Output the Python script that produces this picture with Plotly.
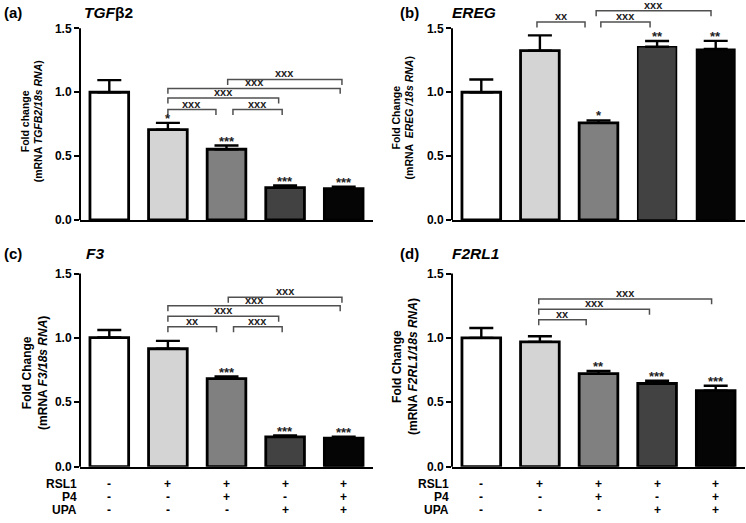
import plotly.graph_objects as go

W, H = 746, 523
FONT = "Liberation Sans, Arial, sans-serif"

groups = [0, 1, 2, 3, 4]
bar_colors = ["#ffffff", "#d4d4d4", "#808080", "#424242", "#050505"]

# ---- data ----
tgfb2_vals = [1.0, 0.707, 0.554, 0.254, 0.246]
tgfb2_err = [0.095, 0.053, 0.029, 0.016, 0.014]
tgfb2_stars = ["", "*", "***", "***", "***"]
tgfb2_br_x0 = [1.0, 2.11, 1.0, 1.0, 2.02]
tgfb2_br_x1 = [1.82, 2.95, 2.89, 3.94, 3.97]
tgfb2_br_y = [0.864, 0.864, 0.954, 1.03, 1.10]
tgfb2_br_lab = ["xxx", "xxx", "xxx", "xxx", "xxx"]

ereg_vals = [1.0, 1.325, 0.76, 1.356, 1.338]
ereg_err = [0.10, 0.12, 0.02, 0.045, 0.064]
ereg_stars = ["", "", "*", "**", "**"]
ereg_br_x0 = [0.95, 2.04, 1.96]
ereg_br_x1 = [1.77, 2.88, 3.92]
ereg_br_y = [1.55, 1.55, 1.638]
ereg_br_lab = ["xx", "xxx", "xxx"]

f3_vals = [1.003, 0.916, 0.684, 0.232, 0.222]
f3_err = [0.058, 0.061, 0.016, 0.010, 0.010]
f3_stars = ["", "", "***", "***", "***"]
f3_br_x0 = [1.0, 2.12, 1.0, 1.0, 2.03]
f3_br_x1 = [1.83, 2.95, 2.89, 3.94, 3.97]
f3_br_y = [1.087, 1.087, 1.168, 1.25, 1.316]
f3_br_lab = ["xx", "xxx", "xxx", "xxx", "xxx"]

f2rl1_vals = [1.0, 0.969, 0.723, 0.646, 0.59]
f2rl1_err = [0.077, 0.044, 0.021, 0.021, 0.038]
f2rl1_stars = ["", "", "**", "***", "***"]
f2rl1_br_x0 = [0.98, 0.98, 0.98]
f2rl1_br_x1 = [1.79, 2.87, 3.93]
f2rl1_br_y = [1.141, 1.223, 1.303]
f2rl1_br_lab = ["xx", "xxx", "xxx"]

tick_vals = [0, 0.5, 1.0, 1.5]
tick_text = ["0.0", "0.5", "1.0", "1.5"]

row_names = ["RSL1", "P4", "UPA"]
rsl1_signs = ["-", "+", "+", "+", "+"]
p4_signs = ["-", "-", "+", "-", "+"]
upa_signs = ["-", "-", "-", "+", "+"]

panel_letters = ["(a)", "(b)", "(c)", "(d)"]
gene_titles = ["<b><i>TGF</i>β2</b>", "<b><i>EREG</i></b>", "<b><i>F3</i></b>", "<b><i>F2RL1</i></b>"]
ytitles = [
    "<b>Fold change<br>(mRNA <i>TGFB2/18s RNA</i>)</b>",
    "<b>Fold Change<br>(mRNA  <i>EREG /18s RNA</i>)</b>",
    "<b>Fold Change<br>(mRNA <i>F3/18s RNA</i>)</b>",
    "<b>Fold Change<br>(mRNA <i>F2RL1/18s RNA</i>)</b>",
]

YMAX = 1.7


def px(x):
    return x / W


def py(y):
    return 1 - y / H


# panel geometry (pixels): x left, x right, y of 0, px per unit
panels = [
    dict(xl=80, xr=373, y0=223, ppu=129.5),
    dict(xl=452, xr=745, y0=223, ppu=129.5),
    dict(xl=80, xr=373, y0=473, ppu=130.5),
    dict(xl=452, xr=745, y0=473, ppu=130.5),
]
outline_w = [
    [2.8] * 5,
    [2.8, 2.8, 2.8, 1.6, 1.2],
    [2.8] * 5,
    [2.8] * 5,
]

datasets = [
    (tgfb2_vals, tgfb2_err, tgfb2_stars, tgfb2_br_x0, tgfb2_br_x1, tgfb2_br_y, tgfb2_br_lab),
    (ereg_vals, ereg_err, ereg_stars, ereg_br_x0, ereg_br_x1, ereg_br_y, ereg_br_lab),
    (f3_vals, f3_err, f3_stars, f3_br_x0, f3_br_x1, f3_br_y, f3_br_lab),
    (f2rl1_vals, f2rl1_err, f2rl1_stars, f2rl1_br_x0, f2rl1_br_x1, f2rl1_br_y, f2rl1_br_lab),
]

fig = go.Figure()
annotations = []
shapes = []
layout_axes = {}

ytitle_pos = [(32, 123, 10.5), (403, 120, 10.5), (35, 378, 12), (405, 372, 12)]
letter_pos = [(2, 13), (398, 13), (2, 257), (398, 257)]
gene_pos = [(82, 13), (450, 13), (84, 257), (450, 257)]

for i, (pan, ds) in enumerate(zip(panels, datasets)):
    vals, err, stars, bx0, bx1, by, blab = ds
    k = "" if i == 0 else str(i + 1)
    xa, ya = "x" + k, "y" + k
    ytop_px = pan["y0"] - YMAX * pan["ppu"]
    dom_x = [px(pan["xl"]), px(pan["xr"])]
    dom_y = [py(pan["y0"]), py(ytop_px)]

    fig.add_trace(go.Bar(
        x=groups, y=vals, xaxis=xa, yaxis=ya, width=0.66,
        marker=dict(color=bar_colors, line=dict(color="black", width=outline_w[i])),
        error_y=dict(type="data", array=err, arrayminus=[0] * len(err), symmetric=False,
                     color="black", thickness=2.4, width=12),
        showlegend=False, hoverinfo="skip",
    ))

    layout_axes["xaxis" + k] = dict(
        domain=dom_x, range=[-0.5, 4.5], showline=True, linecolor="black", linewidth=2,
        showticklabels=False, ticks="", showgrid=False, zeroline=False, anchor=ya, fixedrange=True,
    )
    layout_axes["yaxis" + k] = dict(
        domain=dom_y, range=[0, YMAX], showline=False, tickvals=tick_vals, ticktext=tick_text,
        ticks="outside", ticklen=5, tickwidth=2, tickcolor="black",
        tickfont=dict(family=FONT, size=12, color="black", weight="bold"),
        showgrid=False, zeroline=False, anchor=xa, fixedrange=True,
    )

    # y axis line from 0 to 1.5 (paper coords derived from domain)
    y15 = dom_y[0] + (1.5 / YMAX) * (dom_y[1] - dom_y[0])
    shapes.append(dict(type="line", xref="paper", yref="paper", x0=dom_x[0], x1=dom_x[0],
                       y0=dom_y[0], y1=y15, line=dict(color="black", width=2)))

    # stars
    for g, s, v, e in zip(groups, stars, vals, err):
        if s:
            annotations.append(dict(x=g, y=v + e, xref=xa, yref=ya, text="<b>" + s + "</b>",
                                    showarrow=False, yanchor="bottom", yshift=-5,
                                    font=dict(family=FONT, size=13, color="#222")))

    # brackets
    tick = 5.5 / pan["ppu"]
    for x0, x1, yb, lab in zip(bx0, bx1, by, blab):
        shapes.append(dict(type="path", xref=xa, yref=ya,
                           path=f"M {x0},{yb - tick} L {x0},{yb} L {x1},{yb} L {x1},{yb - tick}",
                           line=dict(color="#505050", width=1.5)))
        annotations.append(dict(x=(x0 + x1) / 2, y=yb, xref=xa, yref=ya, text="<b>" + lab + "</b>",
                                showarrow=False, yanchor="bottom", yshift=-2,
                                font=dict(family=FONT, size=11, color="#222")))

    # y titles
    tx, ty, fs = ytitle_pos[i]
    annotations.append(dict(x=px(tx), y=py(ty), xref="paper", yref="paper", text=ytitles[i],
                            textangle=-90, showarrow=False, xanchor="center", yanchor="middle",
                            font=dict(family=FONT, size=fs, color="black")))
    lx, ly = letter_pos[i]
    annotations.append(dict(x=px(lx), y=py(ly), xref="paper", yref="paper",
                            text="<b>" + panel_letters[i] + "</b>", showarrow=False,
                            xanchor="left", yanchor="middle",
                            font=dict(family=FONT, size=15, color="black")))
    gx, gy = gene_pos[i]
    annotations.append(dict(x=px(gx), y=py(gy), xref="paper", yref="paper",
                            text=gene_titles[i], showarrow=False,
                            xanchor="left", yanchor="middle",
                            font=dict(family=FONT, size=15.5, color="black")))

    # treatment rows (bottom panels)
    if i >= 2:
        row_y = [490.5, 503.5, 516.5]
        for name, signs, ry in zip(row_names, [rsl1_signs, p4_signs, upa_signs], row_y):
            annotations.append(dict(x=px(pan["xl"] - 2), y=py(ry), xref="paper", yref="paper",
                                    text="<b>" + name + "</b>", showarrow=False,
                                    xanchor="right", yanchor="middle", borderpad=0,
                                    font=dict(family=FONT, size=12, color="black")))
            for g, s in zip(groups, signs):
                annotations.append(dict(x=g, y=py(ry), xref=xa, yref="paper",
                                        text="<b>" + s + "</b>", showarrow=False,
                                        xanchor="center", yanchor="middle", borderpad=0,
                                        font=dict(family=FONT, size=12, color="black")))

fig.update_layout(
    width=W, height=H, autosize=False,
    margin=dict(l=0, r=0, t=0, b=0),
    paper_bgcolor="white", plot_bgcolor="white",
    bargap=0.3, showlegend=False,
    annotations=annotations, shapes=shapes,
    font=dict(family=FONT, color="black"),
    **layout_axes,
)

fig.write_html("out.html", config={"displayModeBar": False},
               post_script="document.body.style.margin='0px';document.body.style.padding='0px';")
